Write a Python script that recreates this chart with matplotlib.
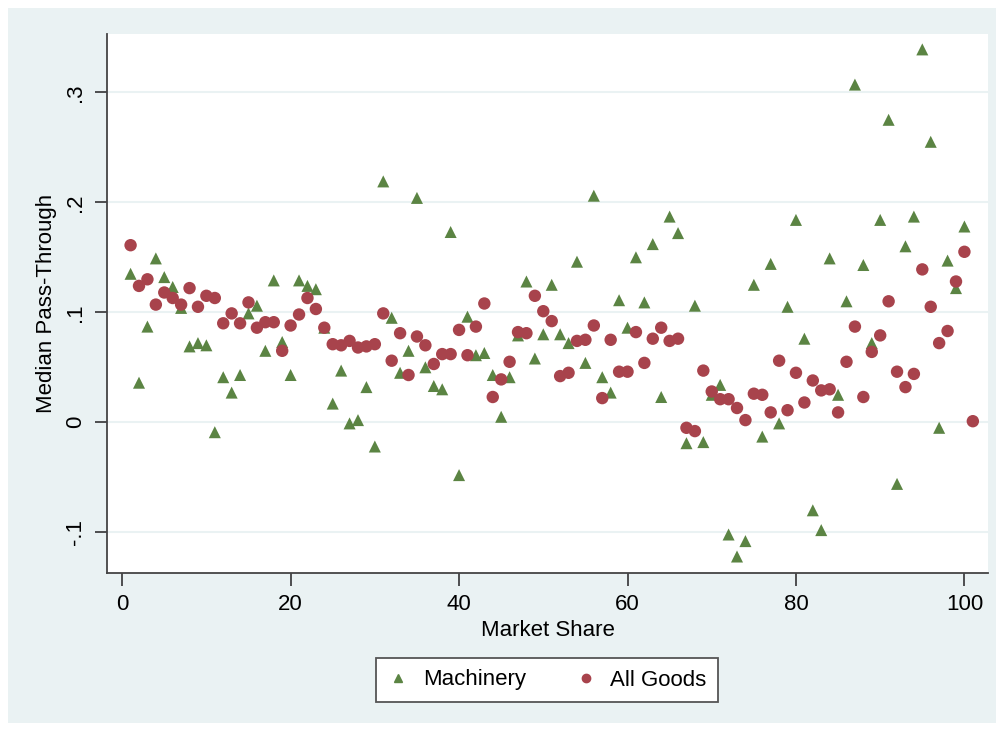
import matplotlib.pyplot as plt
from matplotlib.lines import Line2D
from matplotlib.patches import Rectangle

plt.rcParams['font.family'] = ['Liberation Sans', 'DejaVu Sans']

# Median pass-through by market share bin
machinery_x = list(range(1, 101))
machinery_y = [
    0.135, 0.036, 0.087, 0.149, 0.132, 0.123, 0.104, 0.069, 0.072, 0.070,
    -0.009, 0.041, 0.027, 0.043, 0.099, 0.106, 0.065, 0.129, 0.073, 0.043,
    0.129, 0.124, 0.121, 0.086, 0.017, 0.047, -0.001, 0.002, 0.032, -0.022,
    0.219, 0.095, 0.045, 0.065, 0.204, 0.050, 0.033, 0.030, 0.173, -0.048,
    0.096, 0.061, 0.063, 0.043, 0.005, 0.041, 0.079, 0.128, 0.058, 0.080,
    0.125, 0.080, 0.072, 0.146, 0.054, 0.206, 0.041, 0.027, 0.111, 0.086,
    0.150, 0.109, 0.162, 0.023, 0.187, 0.172, -0.019, 0.106, -0.018, 0.025,
    0.034, -0.102, -0.122, -0.108, 0.125, -0.013, 0.144, -0.001, 0.105, 0.184,
    0.076, -0.080, -0.098, 0.149, 0.025, 0.110, 0.307, 0.143, 0.072, 0.184,
    0.275, -0.056, 0.160, 0.187, 0.339, 0.255, -0.005, 0.147, 0.122, 0.178,
]

allgoods_x = list(range(1, 102))
allgoods_y = [
    0.161, 0.124, 0.130, 0.107, 0.118, 0.113, 0.107, 0.122, 0.105, 0.115,
    0.113, 0.090, 0.099, 0.090, 0.109, 0.086, 0.091, 0.091, 0.065, 0.088,
    0.098, 0.113, 0.103, 0.086, 0.071, 0.070, 0.074, 0.068, 0.069, 0.071,
    0.099, 0.056, 0.081, 0.043, 0.078, 0.070, 0.053, 0.062, 0.062, 0.084,
    0.061, 0.087, 0.108, 0.023, 0.039, 0.055, 0.082, 0.081, 0.115, 0.101,
    0.092, 0.042, 0.045, 0.074, 0.075, 0.088, 0.022, 0.075, 0.046, 0.046,
    0.082, 0.054, 0.076, 0.086, 0.074, 0.076, -0.005, -0.008, 0.047, 0.028,
    0.021, 0.021, 0.013, 0.002, 0.026, 0.025, 0.009, 0.056, 0.011, 0.045,
    0.018, 0.038, 0.029, 0.030, 0.009, 0.055, 0.087, 0.023, 0.064, 0.079,
    0.110, 0.046, 0.032, 0.044, 0.139, 0.105, 0.072, 0.083, 0.128, 0.155,
    0.001,
]

green = "#5B8443"
maroon = "#A8434C"
bg = "#EAF2F3"

fig = plt.figure(figsize=(10.04, 7.31), dpi=100, facecolor="white")
fig.patches.append(Rectangle((8 / 1004, 8 / 731), 988 / 1004, 715 / 731,
                             transform=fig.transFigure, facecolor=bg,
                             edgecolor="none", zorder=-10))

ax = fig.add_axes([107 / 1004, 1 - 573 / 731, 881 / 1004, 539 / 731])
ax.set_facecolor("white")

ax.scatter(machinery_x, machinery_y, marker="^", s=75, color=green,
           edgecolors="none", zorder=3)
ax.scatter(allgoods_x, allgoods_y, marker="o", s=80, color=maroon,
           edgecolors="none", zorder=3)

ax.set_xlim(-1.8, 102.8)
ax.set_ylim(-0.137, 0.353)

ax.set_xticks([0, 20, 40, 60, 80, 100])
ax.set_yticks([-0.1, 0, 0.1, 0.2, 0.3])
ax.set_yticklabels(["-.1", "0", ".1", ".2", ".3"], rotation=90, va="center")
ax.tick_params(axis="both", labelsize=16, length=9, width=1.2, color="#333333")
ax.tick_params(axis="y", pad=6)
ax.tick_params(axis="x", pad=6)

ax.grid(axis="y", color=bg, linewidth=1.5, zorder=0)
for side in ["top", "right"]:
    ax.spines[side].set_visible(False)
for side in ["left", "bottom"]:
    ax.spines[side].set_color("#444444")
    ax.spines[side].set_linewidth(1.3)

ax.set_xlabel("Market Share", fontsize=16, labelpad=4)
ax.set_ylabel("Median Pass-Through", fontsize=16, labelpad=6)

handles = [
    Line2D([], [], marker="^", linestyle="none", color=green, markersize=6),
    Line2D([], [], marker="o", linestyle="none", color=maroon, markersize=6),
]
leg = fig.legend(handles, ["Machinery", "All Goods"], loc="center",
                 bbox_to_anchor=(547 / 1004, 1 - 680 / 731), ncol=2,
                 fontsize=16, frameon=True, fancybox=False,
                 handletextpad=0.6, columnspacing=2.2, borderpad=0.5,
                 handlelength=1.0)
leg.get_frame().set_edgecolor("#555555")
leg.get_frame().set_linewidth(1.3)
leg.get_frame().set_facecolor("white")
leg.get_frame().set_alpha(1)

plt.savefig("out.png", dpi=100, facecolor=fig.get_facecolor())
plt.close()
